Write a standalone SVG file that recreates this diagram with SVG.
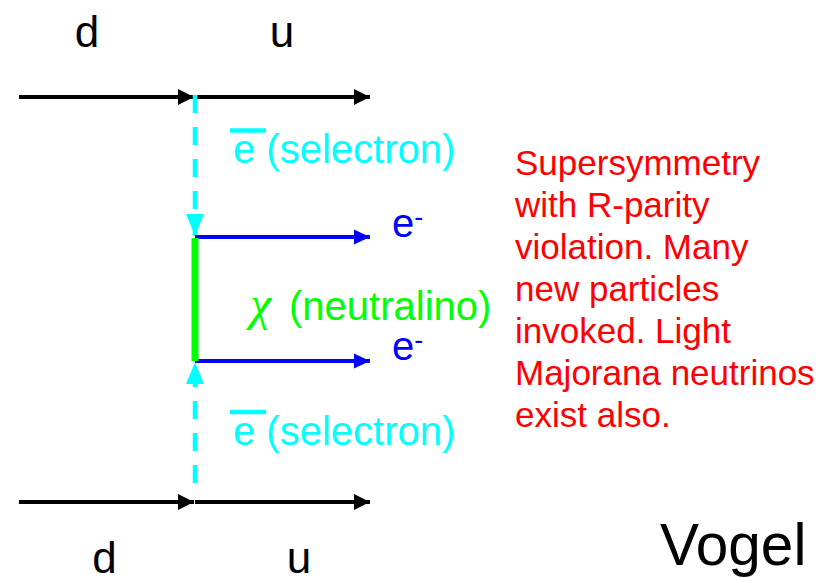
<svg xmlns="http://www.w3.org/2000/svg" width="836" height="578" viewBox="0 0 836 578">
<style>
  text { font-family: "Liberation Sans", Arial, sans-serif; }
  .quark { stroke: #000; stroke-width: 4; fill: none; }
  .elec { stroke: #0000FF; stroke-width: 4; fill: none; }
  .sel { stroke: #00FFFF; stroke-width: 4.5; fill: none; stroke-dasharray: 18 14; }
  .neu { stroke: #00FF00; stroke-width: 7; fill: none; }
  .lblq { font-size: 44px; fill: #000; text-anchor: middle; }
  .lbls { font-size: 40px; fill: #00FFFF; }
  .lble { font-size: 40px; fill: #0000FF; }
  .note { font-size: 35px; fill: #FF0000; }
</style>
<defs>
  <marker id="ak" markerUnits="userSpaceOnUse" markerWidth="17" markerHeight="17" refX="16" refY="8" orient="auto">
    <path d="M0,0 L16,8 L0,16 Z" fill="#000"/>
  </marker>
  <marker id="ab" markerUnits="userSpaceOnUse" markerWidth="17" markerHeight="17" refX="16" refY="8" orient="auto">
    <path d="M0,0.5 L16,8 L0,15.5 Z" fill="#0000FF"/>
  </marker>
  <marker id="ac" markerUnits="userSpaceOnUse" markerWidth="23" markerHeight="19" refX="22" refY="9" orient="auto">
    <path d="M0,0 L22,9 L0,18 Z" fill="#00FFFF"/>
  </marker>
</defs>
<g id="connectors">
  <line class="quark" x1="19" y1="97" x2="194" y2="97" marker-end="url(#ak)"/>
  <line class="quark" x1="195" y1="97" x2="370" y2="97" marker-end="url(#ak)"/>
  <line class="quark" x1="19" y1="502" x2="194" y2="502" marker-end="url(#ak)"/>
  <line class="quark" x1="195" y1="502" x2="370" y2="502" marker-end="url(#ak)"/>
  <path class="sel" d="M195,95 V236" marker-end="url(#ac)"/>
  <path class="sel" d="M195,483 V362" marker-end="url(#ac)"/>
  <line class="elec" x1="195" y1="237" x2="370" y2="237" marker-end="url(#ab)"/>
  <line class="elec" x1="195" y1="361" x2="370" y2="361" marker-end="url(#ab)"/>
  <line class="neu" x1="195" y1="238" x2="195" y2="361"/>
</g>
<g id="quark-labels">
  <text class="lblq" x="87" y="47">d</text>
  <text class="lblq" x="282" y="47">u</text>
  <text class="lblq" x="104.5" y="573">d</text>
  <text class="lblq" x="299" y="573">u</text>
</g>
<g id="selectron-top">
  <line x1="230" y1="130.5" x2="266" y2="130.5" stroke="#00FFFF" stroke-width="4.5"/>
  <text class="lbls" x="233" y="163">e (selectron)</text>
</g>
<g id="selectron-bottom">
  <line x1="230" y1="412" x2="266" y2="412" stroke="#00FFFF" stroke-width="4.5"/>
  <text class="lbls" x="233" y="445">e (selectron)</text>
</g>
<g id="electron-top">
  <text class="lble" x="392" y="237">e<tspan font-size="27" dy="-11">-</tspan></text>
</g>
<g id="electron-bottom">
  <text class="lble" x="392" y="360">e<tspan font-size="27" dy="-11">-</tspan></text>
</g>
<g id="neutralino">
  <text x="250" y="320" font-size="40" fill="#00FF00"><tspan font-family="Liberation Serif, serif" font-size="48" font-style="italic">χ</tspan><tspan x="289">(neutralino)</tspan></text>
</g>
<g id="note">
  <text class="note" x="515" y="175">Supersymmetry</text>
  <text class="note" x="515" y="217">with R-parity</text>
  <text class="note" x="515" y="259">violation. Many</text>
  <text class="note" x="515" y="301">new particles</text>
  <text class="note" x="515" y="343">invoked. Light</text>
  <text class="note" x="515" y="385">Majorana neutrinos</text>
  <text class="note" x="515" y="427">exist also.</text>
</g>
<g id="credit">
  <text x="660" y="565" font-size="58.5" fill="#000">Vogel</text>
</g>
</svg>
